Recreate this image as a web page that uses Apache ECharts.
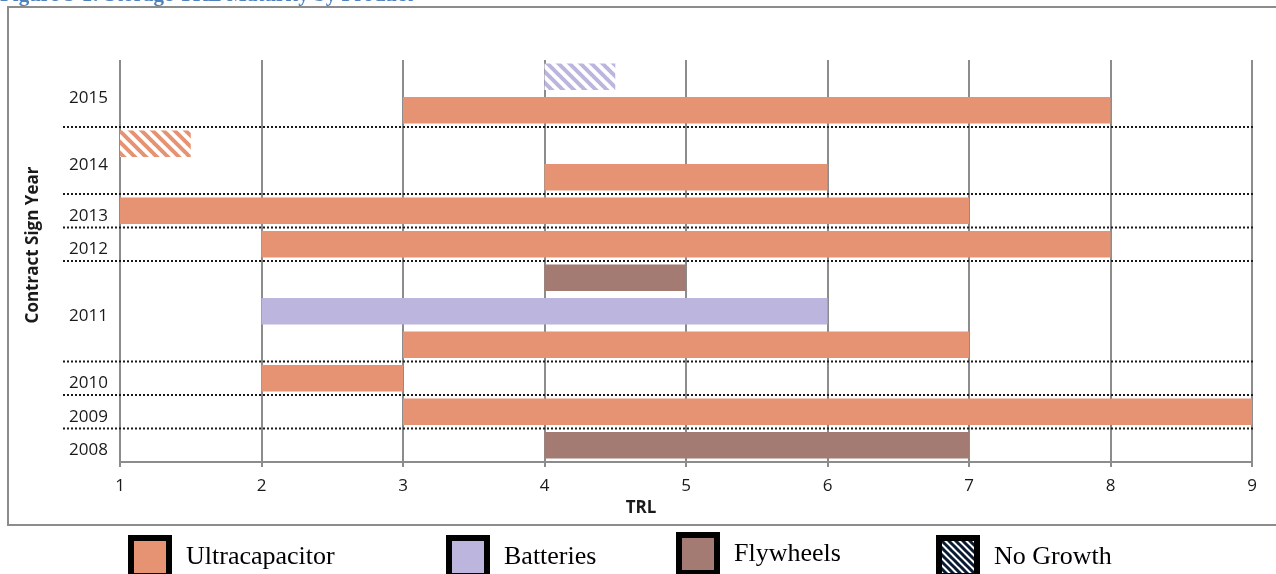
<!DOCTYPE html>
<html>
<head>
<meta charset="utf-8">
<script src="https://cdn.jsdelivr.net/npm/echarts@6/dist/echarts.min.js"></script>
<style>
  html, body { margin: 0; padding: 0; background: #fff; }
  #chart { width: 1276px; height: 574px; }
</style>
</head>
<body>
<div id="chart"></div>
<script>
// One row per bar, listed top to bottom
const rowYear    = ['2015', '2015', '2014', '2014', '2013', '2012', '2011', '2011', '2011', '2010', '2009', '2008'];
const rowProduct = ['Batteries', 'Ultracapacitor', 'Ultracapacitor', 'Ultracapacitor', 'Ultracapacitor', 'Ultracapacitor',
                    'Flywheels', 'Batteries', 'Ultracapacitor', 'Ultracapacitor', 'Ultracapacitor', 'Flywheels'];
const rowNoGrowth = [true, false, true, false, false, false, false, false, false, false, false, false];
const trlStart = [4, 3, 1,   4, 1, 2, 4, 2, 3, 2, 3, 4];
const trlEnd   = [4.5, 8, 1.5, 6, 7, 8, 5, 6, 7, 3, 9, 7];

const products = ['Ultracapacitor', 'Batteries', 'Flywheels'];
const productColors = ['#E59373', '#BCB6DE', '#A47B72'];
const noGrowthName = 'No Growth';
const trlTicks = [1, 2, 3, 4, 5, 6, 7, 8, 9];

// Diagonal hatch tile used for "no growth" entries
function hatch(color, period, width) {
  const c = document.createElement('canvas');
  c.width = c.height = period;
  const g = c.getContext('2d');
  g.fillStyle = '#ffffff';
  g.fillRect(0, 0, period, period);
  g.strokeStyle = color;
  g.lineWidth = width;
  g.beginPath();
  for (const o of [-period, 0, period]) {
    g.moveTo(o - 1, -1);
    g.lineTo(o + period + 1, period + 1);
  }
  g.stroke();
  return { image: c, repeat: 'repeat' };
}

const colorOf = name => productColors[products.indexOf(name)];

// Year groups: label position (centre of their rows) and separators between groups
const yearCenters = {};
const boundaries = [];
{
  let start = 0;
  for (let i = 1; i <= rowYear.length; i++) {
    if (i === rowYear.length || rowYear[i] !== rowYear[start]) {
      yearCenters[((start + i) / 2).toFixed(1)] = rowYear[start];
      if (i < rowYear.length) boundaries.push([i]);
      start = i;
    }
  }
}

function barRender(params, api) {
  const slot = api.value(0);
  const p0 = api.coord([api.value(1), slot + 0.5]);
  const p1 = api.coord([api.value(2), slot + 0.5]);
  const h = api.size([0, 1])[1] * 0.79;
  return {
    type: 'rect',
    shape: { x: p0[0], y: p0[1] - h / 2, width: p1[0] - p0[0], height: h },
    style: { fill: api.visual('color') }
  };
}

const series = products.map((p, k) => ({
  name: p,
  type: 'custom',
  renderItem: barRender,
  itemStyle: { color: productColors[k] },
  encode: { x: [1, 2], y: 0 },
  silent: true,
  data: rowProduct.map((rp, i) => (rp === p && !rowNoGrowth[i]) ? [i, trlStart[i], trlEnd[i]] : null).filter(Boolean)
}));

series.push({
  name: noGrowthName,
  type: 'custom',
  itemStyle: { color: '#0b1a33' },
  encode: { x: [1, 2], y: 0 },
  silent: true,
  renderItem: function (params, api) {
    const el = barRender(params, api);
    const i = api.value(0);
    el.style = { fill: hatch(colorOf(rowProduct[i]), 11, 4) };
    return el;
  },
  data: rowNoGrowth.map((g, i) => g ? [i, trlStart[i], trlEnd[i]] : null).filter(Boolean)
});

// Dotted separators between contract years, running out into the label column
series.push({
  name: 'separators',
  type: 'custom',
  silent: true,
  z: 5,
  encode: { y: 0 },
  renderItem: function (params, api) {
    const y = api.coord([1, api.value(0)])[1];
    const cs = params.coordSys;
    return {
      type: 'line',
      shape: { x1: cs.x - 57, y1: y, x2: cs.x + cs.width + 2, y2: y },
      style: { stroke: '#1a1a1a', lineWidth: 2, lineDash: [2, 2] }
    };
  },
  data: boundaries
});

const legendBase = {
  orient: 'horizontal',
  icon: 'rect',
  padding: 0,
  itemWidth: 38,
  itemHeight: 38,
  selectedMode: false,
  itemStyle: { borderColor: '#000', borderWidth: 6 },
  textStyle: { fontFamily: '"Liberation Serif", serif', fontSize: 26, color: '#000', padding: [0, 0, 0, 12] }
};

const option = {
  animation: false,
  backgroundColor: '#fff',
  grid: { left: 120, right: 24, top: 60, bottom: 112, containLabel: false },
  xAxis: {
    type: 'value',
    min: 1, max: 9, interval: 1,
    name: 'TRL',
    nameLocation: 'middle',
    nameGap: 37,
    nameTextStyle: { fontFamily: '"Open Sans", sans-serif', fontWeight: 'bold', fontSize: 17, color: '#1a1a1a', padding: [0, 90, 0, 0] },
    axisLine: { show: true, onZero: false, lineStyle: { color: '#8c8c8c', width: 2 } },
    axisTick: { show: true, length: 5, lineStyle: { color: '#8c8c8c', width: 2 } },
    splitLine: { show: true, lineStyle: { color: '#8c8c8c', width: 2 } },
    axisLabel: {
      margin: 16,
      fontFamily: '"Open Sans", sans-serif', fontSize: 17, color: '#1a1a1a',
      formatter: v => trlTicks.includes(v) ? String(v) : ''
    }
  },
  yAxis: {
    type: 'value',
    inverse: true,
    min: 0, max: rowYear.length, interval: 0.5,
    name: 'Contract Sign Year',
    nameLocation: 'middle',
    nameRotate: 90,
    nameGap: 78,
    nameTextStyle: { fontFamily: '"Open Sans", sans-serif', fontWeight: 'bold', fontSize: 17, color: '#1a1a1a', padding: [0, 0, 0, 32] },
    axisLine: { show: false },
    axisTick: { show: false },
    splitLine: { show: false },
    axisLabel: {
      margin: 12,
      verticalAlign: 'top',
      lineHeight: 10,
      fontFamily: '"Open Sans", sans-serif', fontSize: 17, color: '#1a1a1a',
      formatter: v => yearCenters[v.toFixed(1)] || ''
    }
  },
  legend: [
    Object.assign({}, legendBase, { left: 128, top: 535, data: ['Ultracapacitor'] }),
    Object.assign({}, legendBase, { left: 446, top: 535, data: ['Batteries'] }),
    Object.assign({}, legendBase, { left: 676, top: 532, data: ['Flywheels'] }),
    Object.assign({}, legendBase, { left: 936, top: 535, data: [{
      name: noGrowthName,
      itemStyle: { color: hatch('#0b1a33', 7, 3), borderColor: '#000', borderWidth: 6 }
    }] })
  ],
  graphic: [
    {
      type: 'rect', silent: true, z: -10,
      shape: { x: 8, y: 7, width: 1300, height: 518 },
      style: { fill: 'none', stroke: '#8c8c8c', lineWidth: 2 }
    },
    {
      type: 'text', silent: true,
      style: {
        x: 0, y: 6,
        text: 'Figure 3-1: Storage TRL Maturity by Product',
        font: 'bold 21px "Liberation Serif", serif',
        fill: '#4F81BD',
        verticalAlign: 'bottom'
      }
    }
  ],
  series: series
};

const chart = echarts.init(document.getElementById('chart'), null, { renderer: 'canvas' });
chart.setOption(option);
</script>
</body>
</html>
